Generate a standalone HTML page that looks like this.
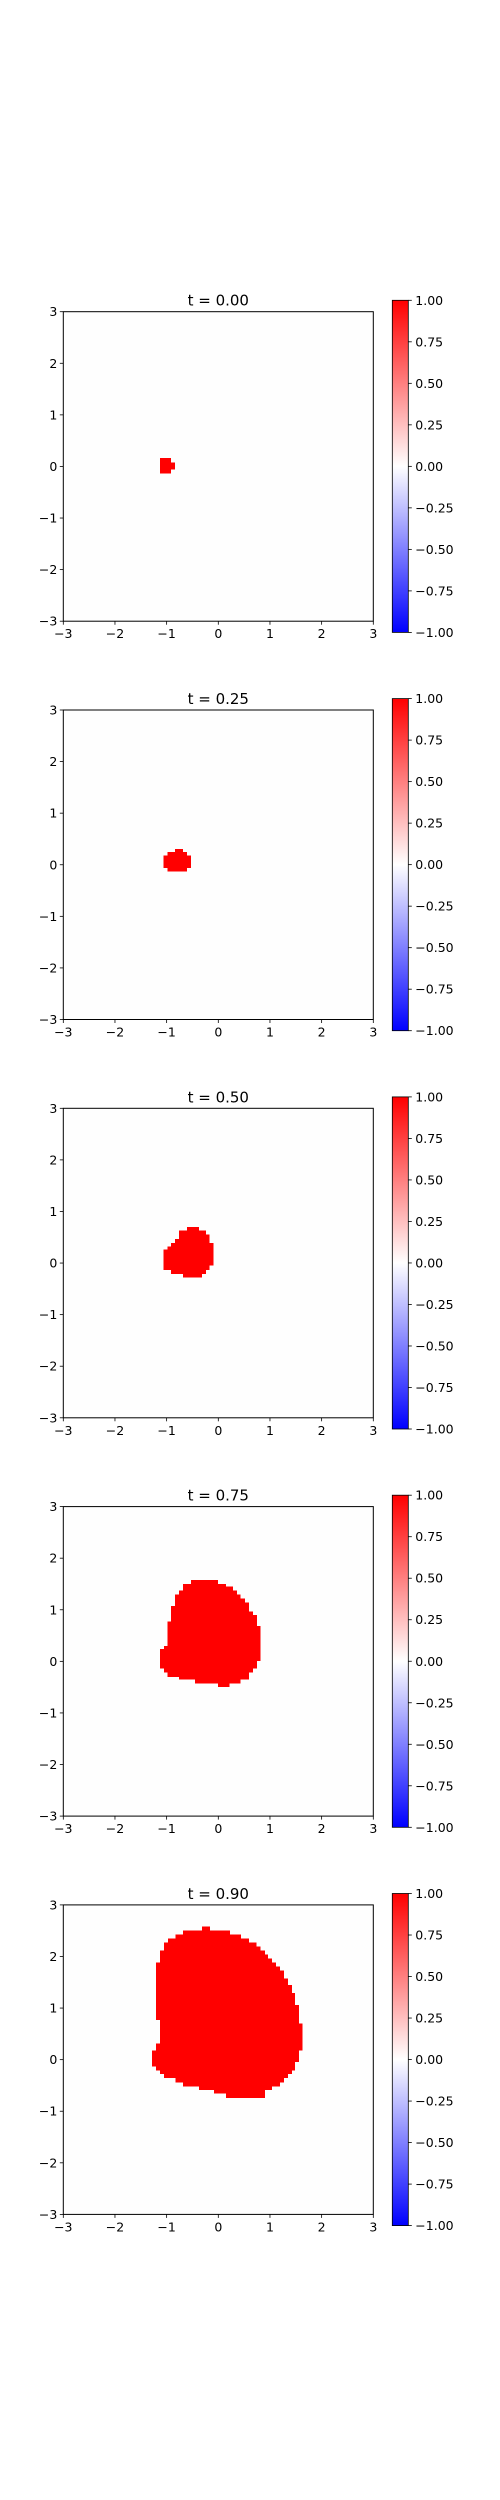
<!DOCTYPE html>
<html><head><meta charset="utf-8">
<style>
html,body{margin:0;padding:0;background:#fff;}
svg{display:block;font-family:"DejaVu Sans","Liberation Sans",sans-serif;}
</style></head>
<body>
<svg id="fig" width="500" height="2500" viewBox="0 0 500 2500" xmlns="http://www.w3.org/2000/svg">
<defs>
<linearGradient id="bwr" x1="0" y1="1" x2="0" y2="0">
<stop offset="0" stop-color="#0000ff"/><stop offset="0.5" stop-color="#ffffff"/><stop offset="1" stop-color="#ff0000"/>
</linearGradient>
</defs>
</svg>
<script>
// Data
const times = ["0.00","0.25","0.50","0.75","0.90"];
const axisTicks = [-3,-2,-1,0,1,2,3];
const cbarTicks = [1.00,0.75,0.50,0.25,0.00,-0.25,-0.50,-0.75,-1.00];
// blob rows per frame: [yTop, yBottom, xLeft, xRight] in data units
const blob0 = [[0.16,0.08,-1.13,-0.92],[0.08,-0.06,-1.13,-0.84],[-0.06,-0.14,-1.13,-0.92]];
const blob1 = [[0.31,0.25,-0.84,-0.68],[0.25,0.18,-0.98,-0.61],[0.18,-0.06,-1.06,-0.53],[-0.06,-0.13,-0.98,-0.61]];
const blob2 = [[0.70,0.63,-0.61,-0.37],[0.63,0.55,-0.76,-0.24],[0.55,0.47,-0.76,-0.17],[0.47,0.39,-0.84,-0.17],[0.39,0.32,-0.92,-0.09],[0.32,0.26,-0.98,-0.09],[0.26,-0.05,-1.06,-0.09],[-0.05,-0.13,-1.06,-0.17],[-0.13,-0.21,-0.92,-0.24],[-0.21,-0.28,-0.68,-0.32]];
const blob3 = [[1.58,1.50,-0.53,-0.01],[1.50,1.45,-0.68,0.15],[1.45,1.37,-0.68,0.28],[1.37,1.30,-0.76,0.36],[1.30,1.22,-0.84,0.43],[1.22,1.14,-0.84,0.52],[1.14,1.07,-0.84,0.59],[1.07,0.97,-0.92,0.59],[0.97,0.90,-0.92,0.67],[0.90,0.77,-0.92,0.75],[0.77,0.69,-0.98,0.75],[0.69,0.30,-0.98,0.82],[0.30,0.24,-1.05,0.82],[0.24,0.01,-1.13,0.82],[0.01,-0.14,-1.13,0.75],[-0.14,-0.22,-1.05,0.67],[-0.22,-0.30,-0.98,0.59],[-0.30,-0.35,-0.76,0.59],[-0.35,-0.43,-0.45,0.43],[-0.43,-0.50,-0.01,0.22]];
const blob4 = [[2.58,2.50,-0.32,-0.16],[2.50,2.43,-0.68,0.23],[2.43,2.35,-0.83,0.44],[2.35,2.27,-0.97,0.59],[2.27,2.19,-1.05,0.74],[2.19,2.12,-1.05,0.82],[2.12,2.04,-1.13,0.90],[2.04,1.96,-1.13,0.96],[1.96,1.88,-1.13,1.04],[1.88,1.81,-1.21,1.12],[1.81,1.73,-1.21,1.19],[1.73,1.57,-1.21,1.27],[1.57,1.45,-1.21,1.35],[1.45,1.29,-1.21,1.43],[1.29,1.06,-1.21,1.48],[1.06,0.77,-1.21,1.56],[0.77,0.70,-1.13,1.56],[0.70,0.31,-1.13,1.63],[0.31,0.18,-1.21,1.63],[0.18,-0.05,-1.28,1.56],[-0.05,-0.13,-1.28,1.48],[-0.13,-0.21,-1.21,1.48],[-0.21,-0.28,-1.13,1.43],[-0.28,-0.36,-1.05,1.35],[-0.36,-0.44,-0.83,1.27],[-0.44,-0.52,-0.68,1.19],[-0.52,-0.59,-0.37,1.04],[-0.59,-0.66,-0.08,0.90],[-0.66,-0.74,0.15,0.90]];
const blobs = [blob0,blob1,blob2,blob3,blob4];

const NS="http://www.w3.org/2000/svg";
const svg=document.getElementById('fig');
function mk(tag,attrs,parent){const e=document.createElementNS(NS,tag);for(const k in attrs)e.setAttribute(k,attrs[k]);(parent||svg).appendChild(e);return e;}
const AX_L=63.3, AX_W=310, AX_H=309.5, PANEL_STEP=398.3, FIRST_TOP=311.7;
const CB_L=392.3, CB_W=16;
function fmtNeg(v,d){const s=Math.abs(v).toFixed(d);return (v<0?"\u2212":"")+s;}

times.forEach((t,i)=>{
  const top=FIRST_TOP+i*PANEL_STEP;
  const sx=v=>AX_L+(v+3)/6*AX_W;
  const sy=v=>top+(3-v)/6*AX_H;
  const g=mk('g',{});
  
  
  const bg=mk('rect',{x:AX_L,y:top,width:AX_W,height:AX_H,fill:'#fefefe'},g);
  
  
  blobs[i].forEach(r=>{
    const c=mk('rect',{x:sx(r[2]),y:sy(r[0]),width:sx(r[3])-sx(r[2]),height:sy(r[1])-sy(r[0]),fill:'#ff0000','shape-rendering':'crispEdges'},g);
    
    
  });
  const fr=mk('rect',{x:AX_L,y:top,width:AX_W,height:AX_H,fill:'none',stroke:'#000','stroke-width':1},g);
  
  
  const ti=mk('text',{x:AX_L+AX_W/2,y:top-6,'text-anchor':'middle','font-size':15,fill:'#000'},g);
  ti.textContent='t = '+t;
  
  
  axisTicks.forEach(v=>{
    mk('line',{x1:sx(v),x2:sx(v),y1:top+AX_H,y2:top+AX_H+3.5,stroke:'#000','stroke-width':0.8},g);
    const xl=mk('text',{x:sx(v),y:top+AX_H+17,'text-anchor':'middle','font-size':12.5,fill:'#000'},g);
    xl.textContent=fmtNeg(v,0);
    
    
    mk('line',{x1:AX_L-3.5,x2:AX_L,y1:sy(v),y2:sy(v),stroke:'#000','stroke-width':0.8},g);
    const yl=mk('text',{x:AX_L-6,y:sy(v)+4.5,'text-anchor':'end','font-size':12.5,fill:'#000'},g);
    yl.textContent=fmtNeg(v,0);
    
    
  });
  const cbTop=top-11.4, cbH=AX_H+22.6;
  const cb=mk('rect',{x:CB_L,y:cbTop,width:CB_W,height:cbH,fill:'url(#bwr)',stroke:'#000','stroke-width':0.8},g);
  
  
  cbarTicks.forEach(v=>{
    const yy=cbTop+(1-v)/2*cbH;
    mk('line',{x1:CB_L+CB_W,x2:CB_L+CB_W+3.5,y1:yy,y2:yy,stroke:'#000','stroke-width':0.8},g);
    const cl=mk('text',{x:CB_L+CB_W+7,y:yy+4.5,'font-size':12.5,fill:'#000'},g);
    cl.textContent=fmtNeg(v,2);
    
    
  });
});
</script>
</body></html>
